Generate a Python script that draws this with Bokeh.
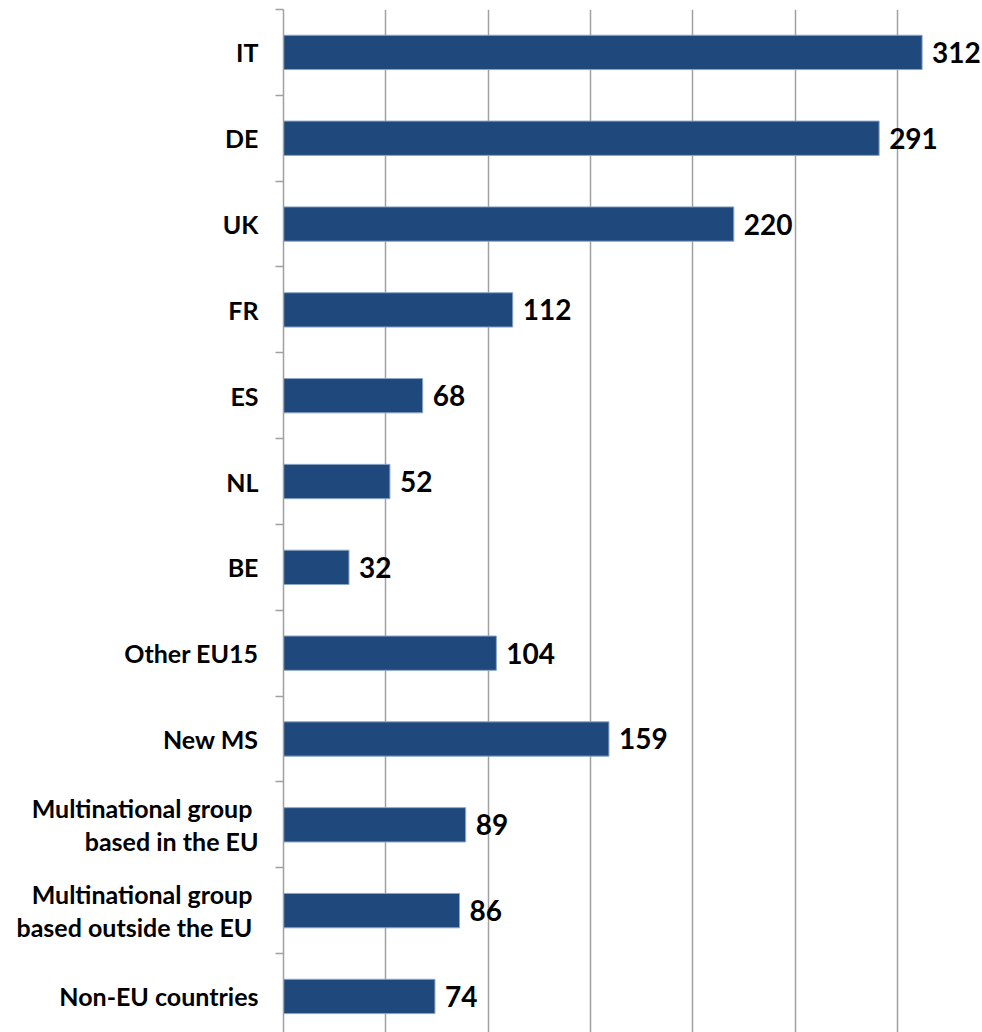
from bokeh.plotting import figure
from bokeh.models import Range1d, FixedTicker, ColumnDataSource
from bokeh.core.properties import value
from bokeh.embed import file_html
from bokeh.resources import INLINE

categories = ["IT", "DE", "UK", "FR", "ES", "NL", "BE", "Other EU15", "New MS",
              "Multinational  group\nbased in the EU",
              "Multinational  group\nbased outside  the EU",
              "Non-EU countries"]
values = [312, 291, 220, 112, 68, 52, 32, 104, 159, 89, 86, 74]
x_ticks = [0, 50, 100, 150, 200, 250, 300, 350]

ypos = [-i for i in range(len(categories))]
src = ColumnDataSource(dict(y=ypos, v=values, lbl=[str(v) for v in values]))

p = figure(width=982, height=1032, output_backend="svg", toolbar_location=None,
           x_range=Range1d(0, 341.5), y_range=Range1d(-11.42, 0.5),
           min_border_left=283, min_border_right=0, min_border_top=9, min_border_bottom=0)
p.outline_line_color = None
p.background_fill_color = "white"

p.hbar(y="y", left=0, right="v", height=0.40, source=src,
       fill_color="#1F497D", line_color="#8DA6C6", line_width=1)
p.text(x="v", y="y", text="lbl", source=src, x_offset=10,
       text_baseline="middle", text_align="left",
       text_font=value("Lato"), text_font_style="bold", text_font_size="28px",
       text_color="black")

p.xaxis.visible = False
p.xgrid.ticker = FixedTicker(ticks=x_ticks)
p.xgrid.grid_line_color = "#A0A0A0"
p.xgrid.grid_line_width = 1.5
p.ygrid.visible = False

yax = p.yaxis[0]
yax.ticker = FixedTicker(ticks=ypos, minor_ticks=[y - 0.5 for y in ypos] + [0.5])
yax.major_label_overrides = {y: c for y, c in zip(ypos, categories)}
yax.major_tick_out = 0
yax.major_tick_in = 0
yax.minor_tick_out = 8
yax.minor_tick_in = 0
yax.minor_tick_line_color = "#A0A0A0"
yax.minor_tick_line_width = 1.5
yax.axis_line_color = "#A0A0A0"
yax.axis_line_width = 1.5
yax.major_label_standoff = 17
yax.major_label_text_font = "Lato"
yax.major_label_text_font_style = "bold"
yax.major_label_text_font_size = "25px"
yax.major_label_text_color = "black"
yax.major_label_text_line_height = 1.1

open("out.html", "w").write(file_html(p, INLINE))
